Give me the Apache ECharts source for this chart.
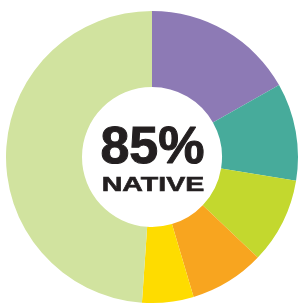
<!DOCTYPE html>
<html>
<head>
<meta charset="utf-8">
<script src="https://cdn.jsdelivr.net/npm/echarts@6/dist/echarts.min.js"></script>
<style>html,body{margin:0;padding:0;background:#fff}#c{width:300px;height:304px}</style>
</head>
<body>
<div id="c"></div>
<script>
const categories = ['Group A', 'Group B', 'Group C', 'Group D', 'Group E', 'Group F'];
const values = [16.8, 10.8, 9.5, 8.3, 5.7, 48.9];
const colors = ['#8D7AB5', '#47AB9B', '#C3D82E', '#F8A51F', '#FEDC00', '#D1E39F'];
const centerValue = '85%';
const centerLabel = 'NATIVE';

const chart = echarts.init(document.getElementById('c'), null, {renderer: 'canvas'});
chart.setOption({
  animation: false,
  series: [{
    type: 'pie',
    center: [152, 157],
    radius: [70, 146],
    startAngle: 90,
    clockwise: true,
    label: {show: false},
    labelLine: {show: false},
    emphasis: {disabled: true},
    silent: true,
    data: categories.map((n, i) => ({name: n, value: values[i], itemStyle: {color: colors[i]}}))
  }],
  graphic: [
    {type: 'text', x: 152.5, y: 149, scaleX: 1.02, style: {text: centerValue, font: 'bold 51px "Liberation Sans"', fill: '#231F20', stroke: '#231F20', lineWidth: 1, align: 'center', verticalAlign: 'middle'}},
    {type: 'text', x: 153, y: 185, scaleX: 1.36, style: {text: centerLabel, font: 'bold 21px "Liberation Sans"', fill: '#231F20', stroke: '#231F20', lineWidth: 0.6, align: 'center', verticalAlign: 'middle'}}
  ]
});
</script>
</body>
</html>
